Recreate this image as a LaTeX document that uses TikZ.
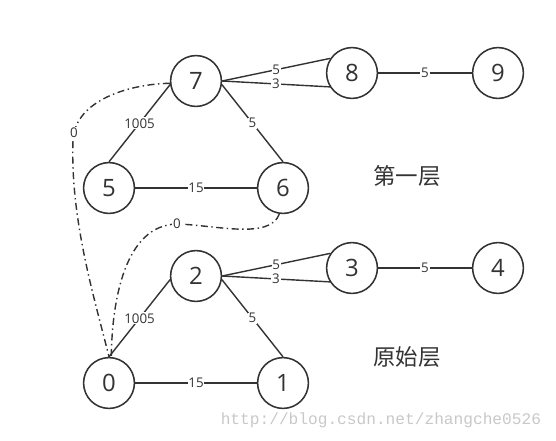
\documentclass[tikz,border=0pt]{standalone}
\usepackage{fontspec}
\setmainfont{Open Sans}
\newfontfamily\cjk{Noto Sans CJK SC}
\newfontfamily\wmfont{Liberation Mono}
\usetikzlibrary{positioning}
\definecolor{inkgray}{RGB}{51,51,51}
\definecolor{markgray}{RGB}{200,200,200}
\tikzset{
    vertex/.style={circle, draw=inkgray, line width=1.1pt, minimum size=1.27cm, inner sep=0pt,
        font=\fontsize{17}{19}\selectfont, text=inkgray},
    link/.style={draw=inkgray, line width=1pt},
    jump/.style={draw=inkgray, line width=1pt, dash pattern=on 5pt off 2.5pt on 1pt off 2.5pt},
    weight/.style={fill=white, inner sep=0.6pt, font=\fontsize{9.5}{10}\selectfont, text=inkgray},
    layername/.style={font=\cjk\fontsize{16}{18}\selectfont, text=inkgray}
}
\begin{document}
\begin{tikzpicture}[x=0.025cm, y=-0.025cm]
    \useasboundingbox (0,0) rectangle (556,440);
    % Upper layer
    \node[vertex] (v7) at (196,81) {7};
    \node[vertex] (v8) at (352,73) {8};
    \node[vertex] (v9) at (498,73) {9};
    \node[vertex] (v5) at (109,188) {5};
    \node[vertex] (v6) at (283,188) {6};
    % Base layer
    \node[vertex] (v2) at (196,276) {2};
    \node[vertex] (v3) at (352,268) {3};
    \node[vertex] (v4) at (498,268) {4};
    \node[vertex] (v0) at (109,383) {0};
    \node[vertex] (v1) at (283,383) {1};
    % Edges of the upper layer
    \draw[link] (v7.east) -- node[weight] {5} (v8.146);
    \draw[link] (v7.east) -- node[weight] {3} (v8.212);
    \draw[link] (v8) -- node[weight] {5} (v9);
    \draw[link] (v7.188) -- node[weight] {1005} (v5.north);
    \draw[link] (v7.352) -- node[weight] {5} (v6.north);
    \draw[link] (v5) -- node[weight] {15} (v6);
    % Edges of the base layer
    \draw[link] (v2.east) -- node[weight] {5} (v3.146);
    \draw[link] (v2.east) -- node[weight] {3} (v3.212);
    \draw[link] (v3) -- node[weight] {5} (v4);
    \draw[link] (v2.188) -- node[weight] {1005} (v0.north);
    \draw[link] (v2.352) -- node[weight] {5} (v1.north);
    \draw[link] (v0) -- node[weight] {15} (v1);
    % Links between the layers
    \coordinate (bendA) at (73,140);
    \coordinate (bendB) at (177,224);
    \draw[jump] (v7.185) .. controls (130,84) and (75,100) .. (bendA)
        .. controls (70,220) and (95,300) .. (v0.north);
    \node[weight] at (74,133) {0};
    \draw[jump] (v6.262) .. controls (270,240) and (215,225) .. (bendB)
        .. controls (125,225) and (112,300) .. (v0.85);
    \node[weight] at (bendB) {0};
    % Layer names
    \node[layername] (upper) at (407,176) {第一层};
    \node[layername] (base) at (407,357) {原始层};
    % Watermark
    \node[font=\wmfont\fontsize{11.5}{13}\selectfont, text=markgray, anchor=east] (mark) at (546,420) {http://blog.csdn.net/zhangche0526};
\end{tikzpicture}
\end{document}
